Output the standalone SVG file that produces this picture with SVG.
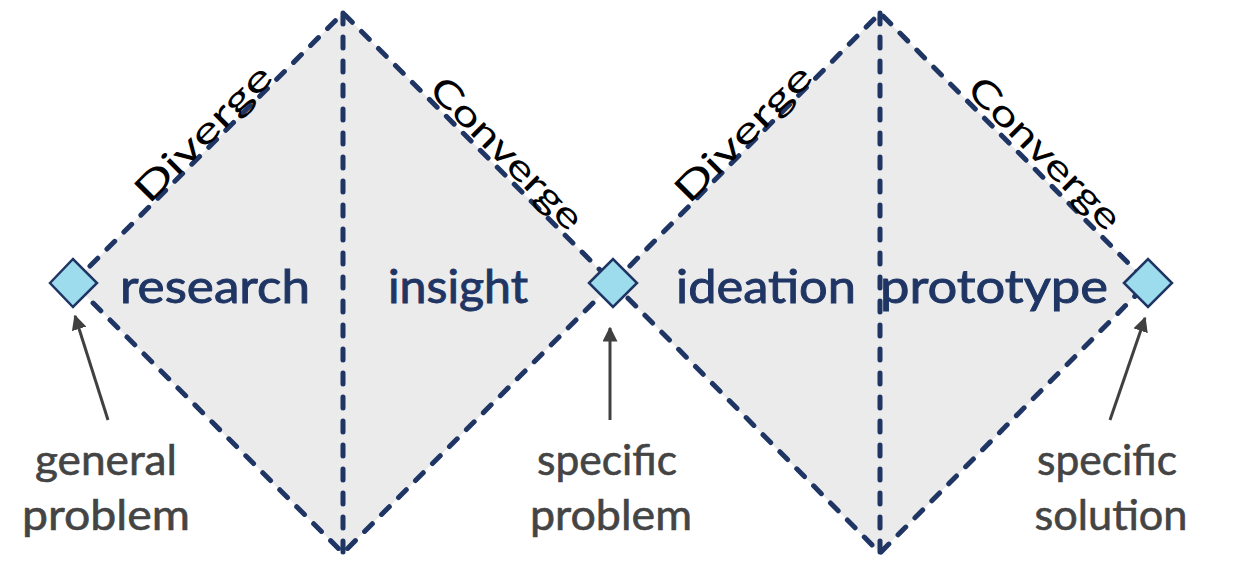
<svg xmlns="http://www.w3.org/2000/svg" width="1236" height="564" viewBox="0 0 1236 564">
<defs>
<style>
.big{fill:#ebebeb;stroke:none}
.dash{fill:none;stroke:#1f3564;stroke-width:5;stroke-dasharray:11 13;stroke-linecap:round}
.pt{fill:#9ddcec;stroke:#1f3564;stroke-width:2.5}
.phase{font-family:Lato,"Open Sans",sans-serif;font-size:46px;fill:#1f3564;stroke:#1f3564;stroke-width:0.9;text-anchor:middle}
.dir{font-family:Lato,"Open Sans",sans-serif;font-size:36px;fill:#000;text-anchor:middle}
.lbl{font-family:Lato,"Open Sans",sans-serif;font-size:42px;fill:#444;stroke:#444;stroke-width:0.6;text-anchor:middle}
.arr{stroke:#404040;stroke-width:3;fill:none}
</style>
<marker id="ah" viewBox="0 0 10 10" refX="9" refY="5" markerWidth="5" markerHeight="5" markerUnits="strokeWidth" orient="auto">
<path d="M0,0 L10,5 L0,10 z" fill="#404040"/>
</marker>
</defs>
<rect width="1236" height="564" fill="#fff"/>
<g id="diamond-left">
<polygon class="big" points="73,283 343,13 613,283 343,553"/>
<polygon class="dash" points="73,283 343,13 613,283 343,553"/>
<line class="dash" x1="343" y1="13" x2="343" y2="553"/>
<text class="phase" x="215" y="303" textLength="190" lengthAdjust="spacingAndGlyphs">research</text>
<text class="phase" x="458" y="303" textLength="140" lengthAdjust="spacingAndGlyphs">insight</text>
<text class="dir" transform="translate(212,142) rotate(-45)" textLength="178" lengthAdjust="spacingAndGlyphs">Diverge</text>
<text class="dir" transform="translate(498,162) rotate(45)" textLength="200" lengthAdjust="spacingAndGlyphs">Converge</text>
</g>
<g id="diamond-right">
<polygon class="big" points="613,283 880,13 1148,283 880,553"/>
<polygon class="dash" points="613,283 880,13 1148,283 880,553"/>
<line class="dash" x1="880" y1="13" x2="880" y2="553"/>
<text class="phase" x="766" y="303" textLength="180" lengthAdjust="spacingAndGlyphs">ideation</text>
<text class="phase" x="994" y="303" textLength="228" lengthAdjust="spacingAndGlyphs">prototype</text>
<text class="dir" transform="translate(752,142) rotate(-45)" textLength="178" lengthAdjust="spacingAndGlyphs">Diverge</text>
<text class="dir" transform="translate(1036,162) rotate(45)" textLength="200" lengthAdjust="spacingAndGlyphs">Converge</text>
</g>
<g id="connectors">
<line class="arr" x1="108" y1="420" x2="75" y2="316" marker-end="url(#ah)"/>
<line class="arr" x1="610" y1="420" x2="610" y2="328" marker-end="url(#ah)"/>
<line class="arr" x1="1110" y1="420" x2="1145" y2="318" marker-end="url(#ah)"/>
</g>
<g id="point-general">
<polygon class="pt" points="50,283 73,259 97,283 73,307"/>
<text class="lbl" x="106" y="475" textLength="142" lengthAdjust="spacingAndGlyphs">general</text>
<text class="lbl" x="106" y="530" textLength="168" lengthAdjust="spacingAndGlyphs">problem</text>
</g>
<g id="point-specific-problem">
<polygon class="pt" points="589,283 613,259 637,283 613,307"/>
<text class="lbl" x="607" y="475" textLength="140" lengthAdjust="spacingAndGlyphs">specific</text>
<text class="lbl" x="611" y="530" textLength="162" lengthAdjust="spacingAndGlyphs">problem</text>
</g>
<g id="point-specific-solution">
<polygon class="pt" points="1124,283 1148,259 1172,283 1148,307"/>
<text class="lbl" x="1107" y="475" textLength="140" lengthAdjust="spacingAndGlyphs">specific</text>
<text class="lbl" x="1111" y="530" textLength="153" lengthAdjust="spacingAndGlyphs">solution</text>
</g>
</svg>
